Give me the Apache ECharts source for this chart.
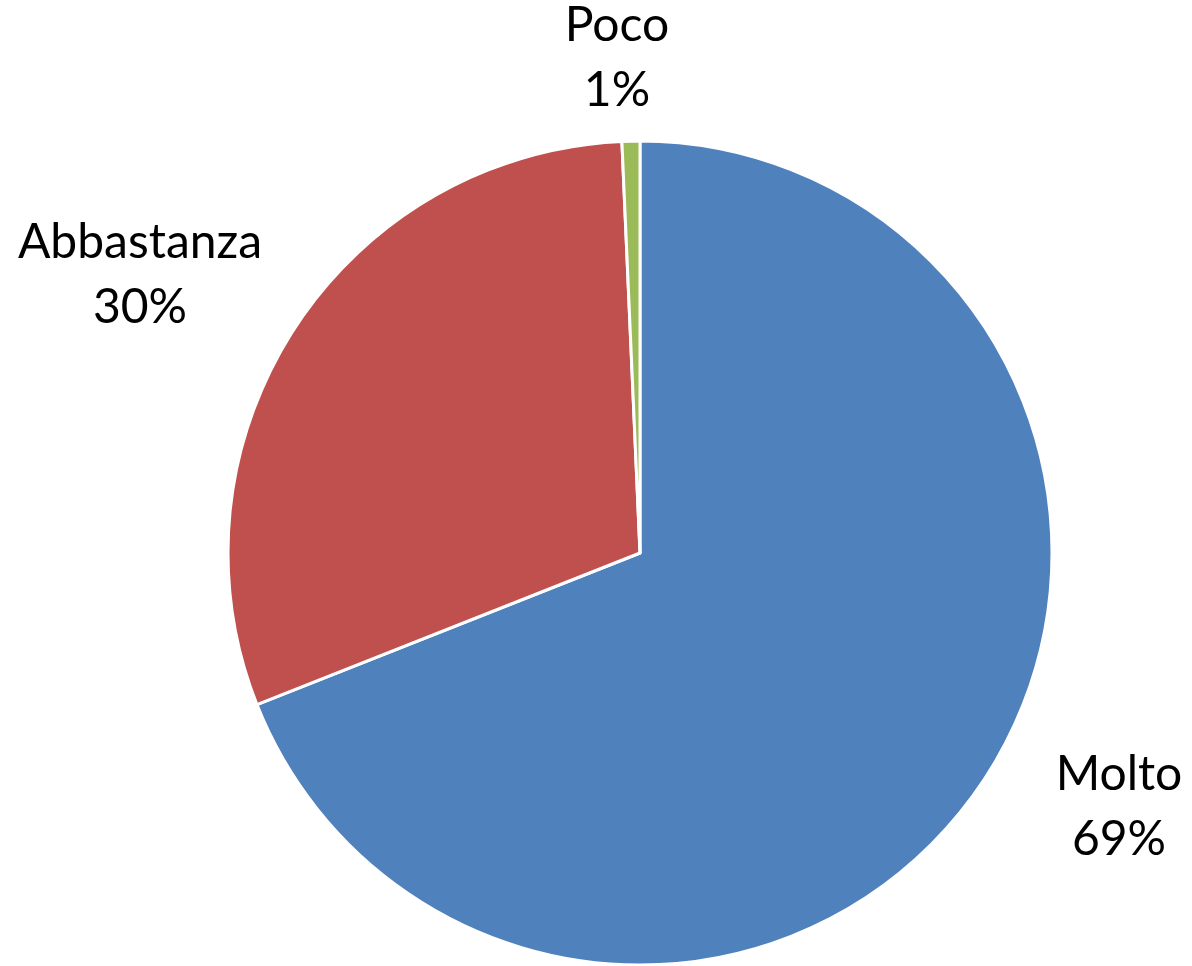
<!DOCTYPE html>
<html>
<head>
<meta charset="utf-8">
<script src="https://cdn.jsdelivr.net/npm/echarts@6/dist/echarts.min.js"></script>
<style>
html,body{margin:0;padding:0;background:#fff;}
#c{width:1192px;height:966px;}
</style>
</head>
<body>
<div id="c"></div>
<script>
const categories = ['Molto', 'Abbastanza', 'Poco'];
const values = [69.0, 30.3, 0.7];
const colors = ['#4F81BD', '#C0504D', '#9BBB59'];

const labelAnchors = [[1119, 807], [140, 275], [617, 58]];

const chart = echarts.init(document.getElementById('c'), null, {renderer: 'canvas'});
chart.setOption({
  backgroundColor: '#ffffff',
  animation: false,
  series: [{
    type: 'pie',
    center: [640, 553],
    radius: 412,
    startAngle: 90,
    clockwise: true,
    percentPrecision: 0,
    avoidLabelOverlap: false,
    data: categories.map((c, i) => ({name: c, value: values[i], itemStyle: {color: colors[i]}})),
    itemStyle: {borderColor: '#ffffff', borderWidth: 3},
    label: {
      show: true,
      position: 'outside',
      formatter: '{b}\n{d}%',
      fontFamily: 'Lato',
      fontSize: 48,
      lineHeight: 65,
      color: '#000000',
      align: 'center'
    },
    labelLine: {show: false},
    labelLayout: function (p) {
      const a = labelAnchors[p.dataIndex];
      return {x: a[0], y: a[1], align: 'center', verticalAlign: 'middle'};
    },
    emphasis: {disabled: true}
  }]
});
</script>
</body>
</html>
